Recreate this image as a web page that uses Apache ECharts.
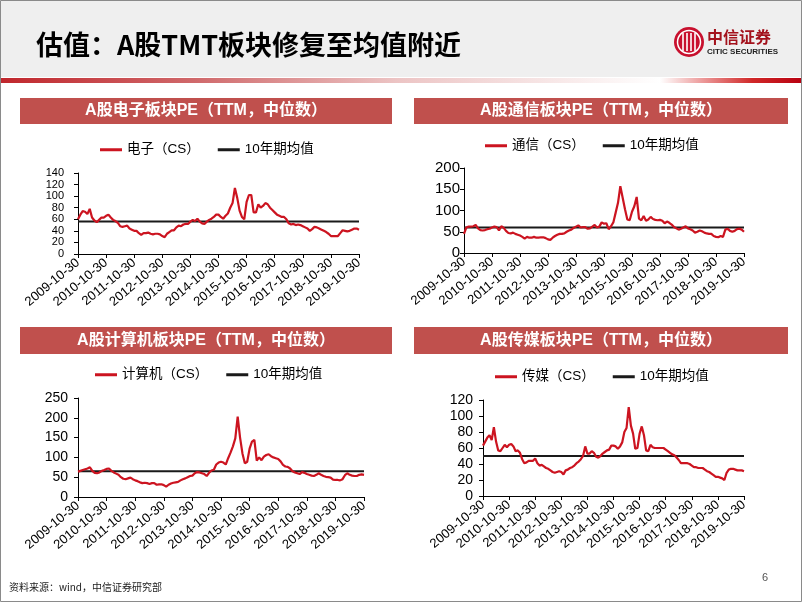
<!DOCTYPE html>
<html><head><meta charset="utf-8">
<script src="https://cdn.jsdelivr.net/npm/echarts@6/dist/echarts.min.js"></script>
<style>html,body{margin:0;padding:0;background:#fff}#c{width:802px;height:602px}</style>
</head><body><div id="c"></div>
<script>
// ---- data ----
const yearLabels = ['2009-10-30','2010-10-30','2011-10-30','2012-10-30','2013-10-30','2014-10-30','2015-10-30','2016-10-30','2017-10-30','2018-10-30','2019-10-30'];
const elecPE = [60,68,74,73,69,78,63,58,55,59,63,63,66,
 68,63,59,57,54,48,47,48,49,44,42,40,
 40,36,33,36,36,37,35,34,35,35,34,31,
 29,35,38,41,41,46,49,48,51,52,52,56,
 59,57,61,56,53,52,56,59,61,64,68,68,
 64,61,66,70,80,88,114,97,75,64,60,90,
 102,102,72,72,86,80,83,88,86,80,76,72,
 68,66,64,64,60,53,51,52,50,51,50,48,
 46,44,40,43,47,46,44,42,40,38,35,31,
 31,31,31,36,41,40,39,40,42,44,44,42];
const commPE = [45,60,62,62,63,66,58,54,53,54,56,57,60,
 62,61,53,63,59,52,47,46,48,45,43,41,
 38,34,38,36,36,38,36,36,37,37,35,32,
 31,36,40,43,45,45,46,50,53,55,59,62,
 65,60,61,61,57,58,62,66,60,62,72,69,
 70,56,63,72,95,118,157,130,103,79,77,97,
 110,132,81,77,87,76,79,85,80,78,77,78,
 76,70,74,71,67,61,58,55,57,60,63,58,
 56,53,48,50,53,51,48,46,45,45,40,38,
 37,40,38,55,57,52,50,52,56,57,55,50];
const compPE = [64,66,68,70,72,75,66,61,60,62,66,68,71,
 72,66,62,59,56,50,46,45,47,49,45,42,
 40,37,35,36,35,33,35,35,31,32,32,30,
 26,31,34,36,37,38,42,45,47,50,53,54,
 60,63,62,60,58,53,61,67,69,82,87,89,
 87,82,98,112,128,148,203,150,110,85,89,122,
 140,144,92,100,93,102,106,108,103,100,98,96,
 90,81,77,76,72,65,62,60,58,63,61,58,
 56,54,53,56,60,56,53,51,50,49,44,43,
 43,42,45,55,60,56,54,53,53,56,57,56];
const mediaPE = [63,68,73,76,70,86,68,57,56,60,64,61,64,
 65,62,56,57,54,46,41,42,44,44,44,47,
 41,38,39,37,35,34,32,30,29,30,31,30,
 27,32,33,35,36,38,41,43,46,50,62,53,
 53,56,54,49,48,50,53,55,57,58,63,63,
 62,59,62,67,80,85,111,88,78,59,60,78,
 87,76,57,56,64,61,60,60,60,60,60,58,
 56,54,52,51,48,45,41,41,41,41,40,38,
 36,36,35,35,35,33,31,30,28,26,24,24,
 23,22,20,29,33,34,34,33,32,32,32,31];
const meanValues = [56, 60, 65, 50];
const seriesNames = ['电子（CS）','通信（CS）','计算机（CS）','传媒（CS）'];
const meanName = '10年期均值';
const panelTitles = ['A股电子板块PE（TTM，中位数）','A股通信板块PE（TTM，中位数）','A股计算机板块PE（TTM，中位数）','A股传媒板块PE（TTM，中位数）'];
const yMax = [140, 200, 250, 120];
const yInterval = [20, 50, 50, 20];
const seriesData = [elecPE, commPE, compPE, mediaPE];

// monthly categories 2009-10 .. 2019-10
const months = [];
for (let i = 0; i <= 120; i++) { const m = 9 + i; months.push((2009 + Math.floor(m / 12)) + '-' + String(m % 12 + 1).padStart(2, '0')); }

// ---- layout ----
const layout = [
  {grid:{left:78, top:173, width:281, height:81}, legend:{left:100, top:143}, bar:{x:20, y:98, w:372, h:26}, yFont:11, yMargin:14},
  {grid:{left:464, top:168, width:280, height:85}, legend:{left:485, top:139}, bar:{x:414, y:98, w:374, h:26}, yFont:15, yMargin:4},
  {grid:{left:78, top:398, width:286, height:99}, legend:{left:95, top:368}, bar:{x:20, y:327, w:372, h:27}, yFont:14, yMargin:10},
  {grid:{left:483, top:400, width:261, height:96}, legend:{left:495, top:370}, bar:{x:414, y:327, w:374, h:27}, yFont:14, yMargin:10}
];
const RED = '#CC1420', BLACK = '#1A1A1A', BAR = '#C0504D';
const FONT = "'Liberation Sans','Noto Sans CJK SC',sans-serif";
const yearTick = (i) => i % 12 === 0;

const grid = [], xAxis = [], yAxis = [], series = [], legend = [], graphic = [];

// header
graphic.push({type:'rect', shape:{x:0, y:0, width:802, height:77}, style:{fill:'#EFEFEF'}, silent:true});
graphic.push({type:'rect', shape:{x:0, y:78, width:660, height:5}, silent:true,
  style:{fill:new echarts.graphic.LinearGradient(0,0,1,0,[{offset:0,color:'#C0262C'},{offset:0.3,color:'#D06A6C'},{offset:0.6,color:'#ECC4C4'},{offset:1,color:'#FFFFFF'}])}});
graphic.push({type:'rect', shape:{x:660, y:78, width:142, height:5}, silent:true,
  style:{fill:new echarts.graphic.LinearGradient(0,0,1,0,[{offset:0,color:'#FFFFFF'},{offset:0.3,color:'#EC9A9A'},{offset:0.65,color:'#D02828'},{offset:1,color:'#B80010'}])}});
graphic.push({type:'text', style:{x:36, y:45, text:'估值：A股TMT板块修复至均值附近', fontSize:27, fontWeight:'bold', fill:'#000', fontFamily:"'Noto Sans CJK SC',sans-serif", textVerticalAlign:'middle'}, silent:true});
// logo
graphic.push({type:'circle', shape:{cx:689, cy:42, r:15}, style:{fill:'#C8102E'}, silent:true});
graphic.push({type:'circle', shape:{cx:689, cy:42, r:11.5}, style:{fill:'none', stroke:'#fff', lineWidth:1.5}, silent:true});
[683, 687, 691, 695].forEach(function (x) {
  graphic.push({type:'line', shape:{x1:x, y1:33, x2:x, y2:51}, style:{stroke:'#fff', lineWidth:1.6}, silent:true});
});
graphic.push({type:'text', style:{x:707, y:37, text:'中信证券', fontSize:16, fontWeight:'bold', fill:'#A3121C', fontFamily:"'Noto Sans CJK SC',sans-serif", textVerticalAlign:'middle'}, silent:true});
graphic.push({type:'text', style:{x:707, y:52, text:'CITIC SECURITIES', fontSize:8, fontWeight:'bold', fill:'#222', fontFamily:FONT, textVerticalAlign:'middle'}, silent:true});
// footer
graphic.push({type:'text', style:{x:9, y:587, text:'资料来源：wind，中信证券研究部', fontSize:10, fill:'#222', fontFamily:"'Noto Sans CJK SC',sans-serif", textVerticalAlign:'middle'}, silent:true});
graphic.push({type:'text', style:{x:765, y:578, text:'6', fontSize:11, fill:'#555', fontFamily:FONT, textAlign:'center', textVerticalAlign:'middle'}, silent:true});
graphic.push({type:'rect', shape:{x:0.5, y:0.5, width:801, height:601}, style:{fill:'none', stroke:'#8A8A8A', lineWidth:1}, silent:true, z:100});

for (let k = 0; k < 4; k++) {
  const L = layout[k];
  grid.push(Object.assign({containLabel:false}, L.grid));
  xAxis.push({type:'category', gridIndex:k, data:months, boundaryGap:false,
    axisLine:{lineStyle:{color:'#000', width:1}},
    axisTick:{interval:yearTick, length:4, lineStyle:{color:'#000'}},
    axisLabel:{interval:yearTick, rotate:40, fontSize:13, color:'#000', margin:7, fontFamily:FONT, hideOverlap:false,
      formatter:function (v, i) { return yearLabels[Math.round(i / 12)]; }},
    splitLine:{show:false}});
  yAxis.push({type:'value', gridIndex:k, min:0, max:yMax[k], interval:yInterval[k],
    axisLine:{show:true, lineStyle:{color:'#000', width:1}},
    axisTick:{show:true, length:4, lineStyle:{color:'#000'}},
    axisLabel:{fontSize:L.yFont, lineHeight:L.yFont, color:'#000', margin:L.yMargin, fontFamily:FONT,
      showMinLabel:true, showMaxLabel:true, hideOverlap:false},
    splitLine:{show:false}});
  series.push({type:'line', name:seriesNames[k], xAxisIndex:k, yAxisIndex:k, data:seriesData[k],
    symbol:'none', lineStyle:{color:RED, width:2.2}, itemStyle:{color:RED}, z:3});
  series.push({type:'line', name:meanName, xAxisIndex:k, yAxisIndex:k, data:months.map(function () { return meanValues[k]; }),
    symbol:'none', lineStyle:{color:BLACK, width:2}, itemStyle:{color:BLACK}, z:2});
  legend.push({left:L.legend.left, top:L.legend.top, padding:0, itemGap:18, itemWidth:22, itemHeight:3, icon:'rect',
    selectedMode:false, data:[seriesNames[k], meanName],
    textStyle:{fontSize:13.5, color:'#000', fontFamily:FONT}});
  graphic.push({type:'rect', shape:{x:L.bar.x, y:L.bar.y, width:L.bar.w, height:L.bar.h}, style:{fill:BAR}, silent:true});
  graphic.push({type:'text', silent:true, style:{x:L.bar.x + L.bar.w / 2, y:L.bar.y + L.bar.h / 2, text:panelTitles[k], fontSize:16, fontWeight:'bold',
    fill:'#fff', fontFamily:FONT, textAlign:'center', textVerticalAlign:'middle'}});
}

const chart = echarts.init(document.getElementById('c'), null, {renderer:'canvas'});
chart.setOption({animation:false, backgroundColor:'#fff', textStyle:{fontFamily:FONT}, grid, xAxis, yAxis, series, legend, graphic});
</script></body></html>
